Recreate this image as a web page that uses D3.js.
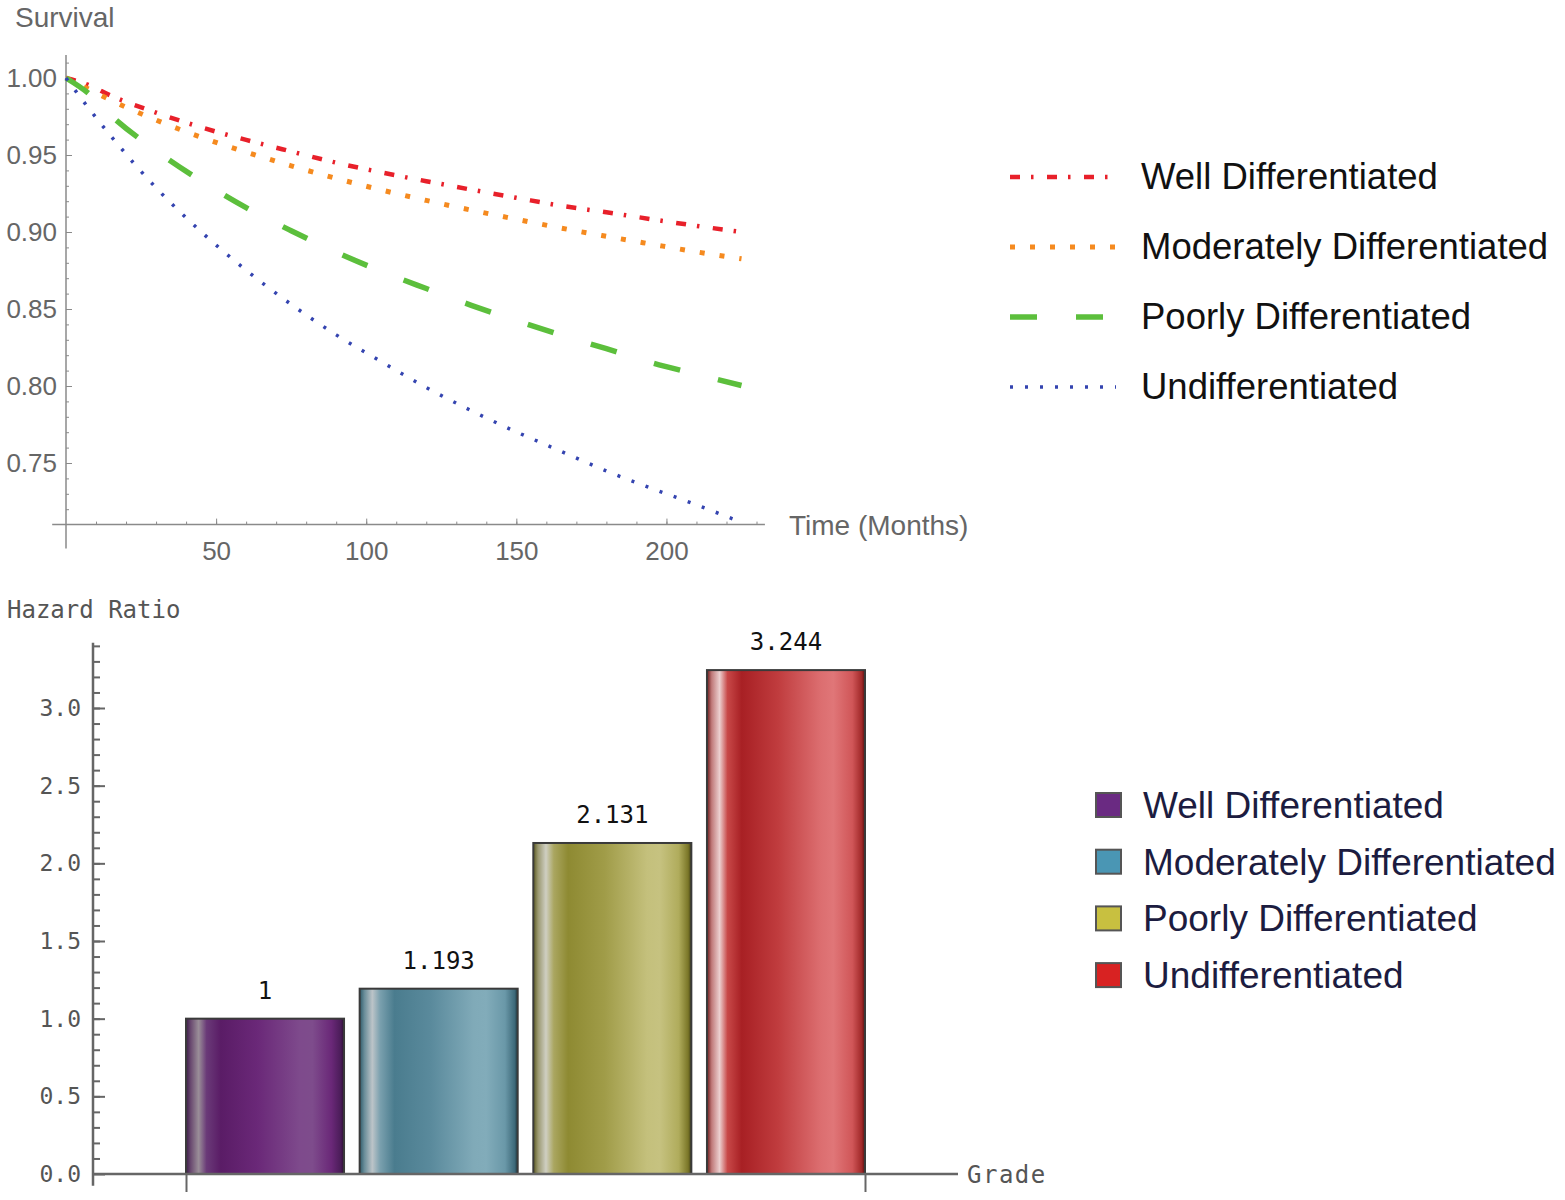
<!DOCTYPE html>
<html>
<head>
<meta charset="utf-8">
<script src="https://cdn.jsdelivr.net/npm/d3@7"></script>
<style>
  html, body { margin: 0; padding: 0; background: #fff; }
  svg { display: block; }
</style>
</head>
<body>
<svg id="chart" width="1565" height="1200"></svg>
<script>
// ---------- DATA ----------
const grades = ["Well Differentiated", "Moderately Differentiated", "Poorly Differentiated", "Undifferentiated"];
const timeMonths = [0, 7.5, 15, 30, 45, 60, 75, 90, 105, 120, 135, 150, 165, 180, 195, 210, 225];
const survWell   = [1, 0.9955, 0.9885, 0.9775, 0.9680, 0.9598, 0.9523, 0.9450, 0.9387, 0.9330, 0.9275, 0.9222, 0.9170, 0.9128, 0.9083, 0.9040, 0.9000];
const survModer  = [1, 0.9928, 0.9855, 0.9727, 0.9615, 0.9519, 0.9430, 0.9348, 0.9273, 0.9205, 0.9142, 0.9083, 0.9025, 0.8972, 0.8921, 0.8871, 0.8826];
const survPoorly = [1, 0.9900, 0.9756, 0.9528, 0.9332, 0.9158, 0.9008, 0.8869, 0.8745, 0.8633, 0.8524, 0.8424, 0.8330, 0.8242, 0.8152, 0.8077, 0.8003];
const survUndiff = [1, 0.9805, 0.9622, 0.9287, 0.9002, 0.8752, 0.8530, 0.8332, 0.8158, 0.7990, 0.7840, 0.7702, 0.7575, 0.7448, 0.7336, 0.7228, 0.7115];
const survTicks = [0.75, 0.80, 0.85, 0.90, 0.95, 1.00];
const timeTicks = [50, 100, 150, 200];
const hazardRatio = [1, 1.193, 2.131, 3.244];
const hazardLabels = ["1", "1.193", "2.131", "3.244"];
const hazardTicks = [0, 0.5, 1.0, 1.5, 2.0, 2.5, 3.0];

// ---------- STYLES ----------
const lineColors = ["#e8202a", "#f58a1f", "#5cbf3c", "#3444b0"];
const lineWidths = [4.5, 5, 5.5, 3.5];
const lineDash   = ["10,11,2.5,13.5", "5,15", "27,39", "3,12"];
const barColors  = ["#6a2a82", "#4a96b4", "#c8c040", "#d82222"];
const barStops = [
  ["#3c1c48","#6a4a70","#9a8e98","#6a3a78","#5a1c66","#6a2878","#7e4a8c","#7e4c8c","#6a2878","#4a1c58","#2a1030"],
  ["#2e5a6a","#6a8e9a","#bcc4c8","#7aa0ae","#4a7c8e","#5a8a9c","#80aab8","#82acba","#6a98a8","#3e6a7a","#1e3a44"],
  ["#5a5820","#9a9870","#cfcfc2","#aaa660","#8e8a32","#a09c48","#c4c07c","#c6c280","#b0ac5c","#7a7628","#3e3c14"],
  ["#6a1818","#c07a7a","#ecd0d0","#c84848","#a82024","#c03c3e","#dc6e70","#e07678","#d05658","#a02828","#501010"]
];
const stopOffsets = [0, 0.03, 0.08, 0.13, 0.22, 0.45, 0.72, 0.80, 0.92, 0.98, 1];

const svg = d3.select("#chart");
const sansFont = "'Liberation Sans', Arial, sans-serif";
const monoFont = "'DejaVu Sans Mono', 'Liberation Mono', monospace";

// ================= TOP: SURVIVAL CURVES =================
const xT = d3.scaleLinear().domain([0, 225]).range([66, 741.5]);
const yT = d3.scaleLinear().domain([0.71, 1.0]).range([524.6, 78]);
const gTop = svg.append("g");
const axisGray = "#8a8a8a";

gTop.append("line").attr("x1", xT(-4.6)).attr("x2", xT(232.8)).attr("y1", yT(0.71)).attr("y2", yT(0.71))
  .attr("stroke", axisGray).attr("stroke-width", 1.5);
gTop.append("line").attr("x1", xT(0)).attr("x2", xT(0)).attr("y1", yT(1.015)).attr("y2", yT(0.6945))
  .attr("stroke", axisGray).attr("stroke-width", 1.5);

const yTopMinor = d3.range(0.72, 1.0101, 0.01).map(v => +v.toFixed(2));
gTop.append("g").attr("transform", `translate(${xT(0)},0)`)
  .call(d3.axisLeft(yT).tickValues(yTopMinor).tickSize(-3).tickFormat(""))
  .call(g => g.select(".domain").remove())
  .call(g => g.selectAll("line").attr("stroke", axisGray));
gTop.append("g").attr("transform", `translate(${xT(0)},0)`)
  .call(d3.axisLeft(yT).tickValues(survTicks).tickSize(-6).tickPadding(9).tickFormat(d3.format(".2f")))
  .call(g => g.select(".domain").remove())
  .call(g => g.selectAll("line").attr("stroke", axisGray))
  .call(g => g.selectAll("text").attr("font-family", sansFont).attr("font-size", 26).attr("fill", "#666"));

const xTopMinor = d3.range(10, 231, 10);
gTop.append("g").attr("transform", `translate(0,${yT(0.71)})`)
  .call(d3.axisBottom(xT).tickValues(xTopMinor).tickSize(-3).tickFormat(""))
  .call(g => g.select(".domain").remove())
  .call(g => g.selectAll("line").attr("stroke", axisGray));
gTop.append("g").attr("transform", `translate(0,${yT(0.71)})`)
  .call(d3.axisBottom(xT).tickValues(timeTicks).tickSize(-6).tickPadding(17))
  .call(g => g.select(".domain").remove())
  .call(g => g.selectAll("line").attr("stroke", axisGray))
  .call(g => g.selectAll("text").attr("font-family", sansFont).attr("font-size", 26).attr("fill", "#666"));

gTop.append("text").attr("x", 15).attr("y", 27).text("Survival")
  .attr("font-family", sansFont).attr("font-size", 28).attr("fill", "#666");
gTop.append("text").attr("x", 789).attr("y", yT(0.71) + 10).text("Time (Months)")
  .attr("font-family", sansFont).attr("font-size", 28).attr("fill", "#666");

const survSeries = [survWell, survModer, survPoorly, survUndiff];
const line = d3.line().x(d => xT(d[0])).y(d => yT(d[1])).curve(d3.curveMonotoneX);
survSeries.forEach((s, i) => {
  gTop.append("path")
    .datum(timeMonths.map((t, k) => [t, s[k]]))
    .attr("d", line)
    .attr("fill", "none")
    .attr("stroke", lineColors[i])
    .attr("stroke-width", lineWidths[i])
    .attr("stroke-dasharray", lineDash[i]);
});

const legTop = gTop.append("g");
grades.forEach((name, i) => {
  const y = 177 + i * 70;
  legTop.append("line").attr("x1", 1010).attr("x2", 1116).attr("y1", y).attr("y2", y)
    .attr("stroke", lineColors[i]).attr("stroke-width", lineWidths[i])
    .attr("stroke-dasharray", lineDash[i]);
  legTop.append("text").attr("x", 1141).attr("y", y + 12).text(name)
    .attr("font-family", sansFont).attr("font-size", 36.5).attr("fill", "#111");
});

// ================= BOTTOM: HAZARD RATIO BARS =================
const gBot = svg.append("g");
const xB = d3.scaleBand().domain(grades).range([186, 865]).paddingInner(0.09).paddingOuter(0);
const xBEdge = d3.scaleLinear().domain([0, 1]).range(xB.range());
const yB = d3.scaleLinear().domain([0, 3]).range([1174, 708]);
const botGray = "#666";

const defs = svg.append("defs");
barStops.forEach((stops, i) => {
  const gr = defs.append("linearGradient").attr("id", "barGrad" + i)
    .attr("x1", "0").attr("x2", "1").attr("y1", "0").attr("y2", "0");
  stops.forEach((c, k) => gr.append("stop").attr("offset", stopOffsets[k]).attr("stop-color", c));
});

gBot.selectAll("rect.bar").data(hazardRatio).join("rect")
  .attr("class", "bar")
  .attr("x", (d, i) => xB(grades[i]))
  .attr("width", xB.bandwidth())
  .attr("y", d => yB(d))
  .attr("height", d => yB(0) - yB(d))
  .attr("fill", (d, i) => `url(#barGrad${i})`)
  .attr("stroke", "#3a3a3a")
  .attr("stroke-width", 2);

gBot.selectAll("text.val").data(hazardRatio).join("text")
  .attr("class", "val")
  .attr("x", (d, i) => xB(grades[i]) + xB.bandwidth() / 2)
  .attr("y", d => yB(d) - 20)
  .attr("text-anchor", "middle")
  .text((d, i) => hazardLabels[i])
  .attr("font-family", monoFont).attr("font-size", 24).attr("fill", "#111");

gBot.append("line").attr("x1", 93).attr("x2", 93)
  .attr("y1", yB(3.42)).attr("y2", yB(-0.075))
  .attr("stroke", botGray).attr("stroke-width", 2.5);
gBot.append("line").attr("x1", 93).attr("x2", 958).attr("y1", yB(0)).attr("y2", yB(0))
  .attr("stroke", botGray).attr("stroke-width", 2.5);

const yBotMinor = d3.range(0.1, 3.41, 0.1).map(v => +v.toFixed(1));
gBot.append("g").attr("transform", "translate(93,0)")
  .call(d3.axisLeft(yB).tickValues(yBotMinor).tickSize(-7).tickFormat(""))
  .call(g => g.select(".domain").remove())
  .call(g => g.selectAll("line").attr("stroke", botGray).attr("stroke-width", 2));
gBot.append("g").attr("transform", "translate(93,0)")
  .call(d3.axisLeft(yB).tickValues(hazardTicks).tickSize(-12).tickPadding(12).tickFormat(d3.format(".1f")))
  .call(g => g.select(".domain").remove())
  .call(g => g.selectAll("line").attr("stroke", botGray).attr("stroke-width", 2))
  .call(g => g.selectAll("text").attr("font-family", monoFont).attr("font-size", 23).attr("fill", "#555"));

gBot.append("g").attr("transform", `translate(0,${yB(0)})`)
  .call(d3.axisBottom(xBEdge).tickValues([0, 1]).tickSize(18).tickFormat(""))
  .call(g => g.select(".domain").remove())
  .call(g => g.selectAll("line").attr("stroke", botGray).attr("stroke-width", 2));

gBot.append("text").attr("x", 7).attr("y", 618).text("Hazard Ratio")
  .attr("font-family", monoFont).attr("font-size", 24).attr("fill", "#555");
gBot.append("text").attr("x", 967).attr("y", yB(0) + 9).text("Grade")
  .attr("font-family", monoFont).attr("font-size", 24).attr("letter-spacing", 1.5).attr("fill", "#555");

const legBot = gBot.append("g");
grades.forEach((name, i) => {
  const y = 805 + i * 56.7;
  legBot.append("rect").attr("x", 1096).attr("y", y - 12).attr("width", 25).attr("height", 24)
    .attr("fill", barColors[i]).attr("stroke", "#555").attr("stroke-width", 2);
  legBot.append("text").attr("x", 1143).attr("y", y + 13).text(name)
    .attr("font-family", sansFont).attr("font-size", 37).attr("fill", "#1c1c40");
});
</script>
</body>
</html>
